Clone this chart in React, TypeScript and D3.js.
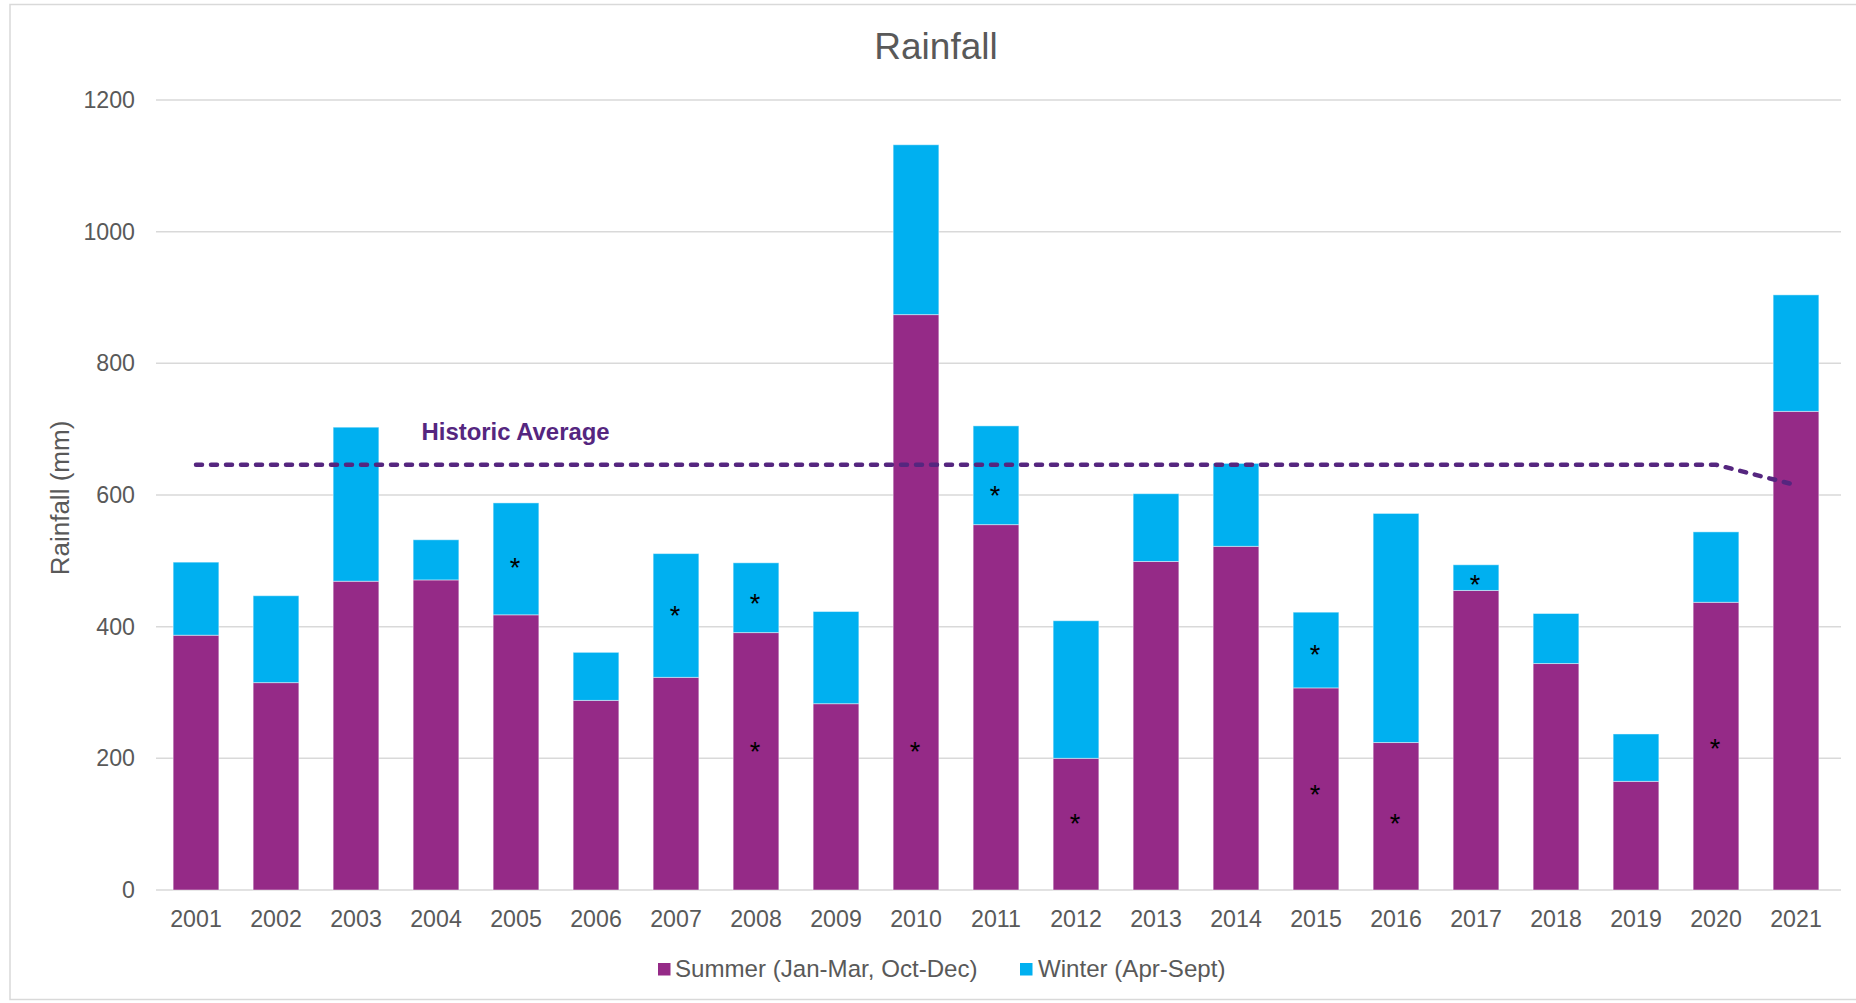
import React from "react";
import * as d3 from "d3";

const years = ["2001","2002","2003","2004","2005","2006","2007","2008","2009","2010","2011","2012","2013","2014","2015","2016","2017","2018","2019","2020","2021"];
const summer = [387, 315, 469, 471, 418, 288, 323, 391, 283, 874, 555, 200, 499, 522, 307, 224, 455, 344, 165, 437, 727];
const winter = [111, 132, 234, 61, 170, 73, 188, 106, 140, 258, 150, 209, 103, 126, 115, 348, 39, 76, 72, 107, 177];
const historicAverage = [646, 646, 646, 646, 646, 646, 646, 646, 646, 646, 646, 646, 646, 646, 646, 646, 646, 646, 646, 646, 615];
const starYears = ["2005", "2007", "2008", "2008", "2010", "2011", "2012", "2015", "2015", "2016", "2017", "2020"];
const starValues = [498, 425, 444, 219, 219, 607, 109, 366, 154, 109, 473, 223];
const yTicks = [0, 200, 400, 600, 800, 1000, 1200];

const SUMMER = "#952A87";
const WINTER = "#00B0F0";
const AVG = "#55267F";
const TXT = "#595959";
const FONT = "'Liberation Sans', Arial, sans-serif";

export default function App() {
  const W = 1856, H = 1003;
  const left = 156, right = 1836, top = 100, bottom = 890;
  const gap = 0.75 / 1.75;
  const x = d3.scaleBand<string>().domain(years).range([left, right]).paddingInner(gap).paddingOuter(gap / 2);
  const y = d3.scaleLinear().domain([0, 1200]).range([bottom, top]);
  const cx = (yr: string) => (x(yr) as number) + x.bandwidth() / 2;

  const stacked = d3.stack<number>().keys(["s", "w"]).value((i, k) => (k === "s" ? summer[i] : winter[i]))(d3.range(years.length));

  const line = d3.line<number>().x((_, i) => cx(years[i])).y((v) => y(v));

  return (
    <svg width={W} height={H} style={{ position: "absolute", left: 0, top: 0, display: "block", background: "#fff" }} fontFamily={FONT}>
      <rect x={10} y={4.5} width={W + 10} height={995} fill="#fff" stroke="#D9D9D9" strokeWidth={1.5} />
      <text x={936} y={59} textAnchor="middle" fontSize={37} fill={TXT}>Rainfall</text>
      {yTicks.map((t) => (
        <g key={t}>
          <line x1={left} x2={right + 5} y1={y(t)} y2={y(t)} stroke="#D9D9D9" strokeWidth={1.5} />
          <text x={135} y={y(t) + 8} textAnchor="end" fontSize={23.2} fill={TXT}>{t}</text>
        </g>
      ))}
      <text transform={`translate(69,498) rotate(-90)`} textAnchor="middle" fontSize={26} fill={TXT}>Rainfall (mm)</text>
      {stacked.map((series, si) => (
        <g key={si} fill={si === 0 ? SUMMER : WINTER}>
          {series.map((d, i) => (
            <rect key={i} x={x(years[i])} width={x.bandwidth()} y={y(d[1])} height={y(d[0]) - y(d[1])} stroke="rgba(255,255,255,0.45)" strokeWidth={1} />
          ))}
        </g>
      ))}
      {years.map((yr) => (
        <text key={yr} x={cx(yr)} y={927} textAnchor="middle" fontSize={23.2} fill={TXT}>{yr}</text>
      ))}
      <path d={line(historicAverage) || ""} fill="none" stroke={AVG} strokeWidth={4.5} strokeLinecap="round" strokeDasharray="6 9" />
      <text x={421.5} y={439.5} fontSize={23.9} fontWeight="bold" fill={AVG}>Historic Average</text>
      {starYears.map((yr, i) => (
        <text key={i} x={cx(yr) - 1} y={y(starValues[i]) + 15} textAnchor="middle" fontSize={27} fill="#000">*</text>
      ))}
      <rect x={658} y={963} width={12.5} height={12.5} fill={SUMMER} />
      <text x={675} y={977} fontSize={24.1} fill={TXT}>Summer (Jan-Mar, Oct-Dec)</text>
      <rect x={1020} y={963} width={12.5} height={12.5} fill={WINTER} />
      <text x={1038} y={977} fontSize={24.1} fill={TXT}>Winter (Apr-Sept)</text>
    </svg>
  );
}
